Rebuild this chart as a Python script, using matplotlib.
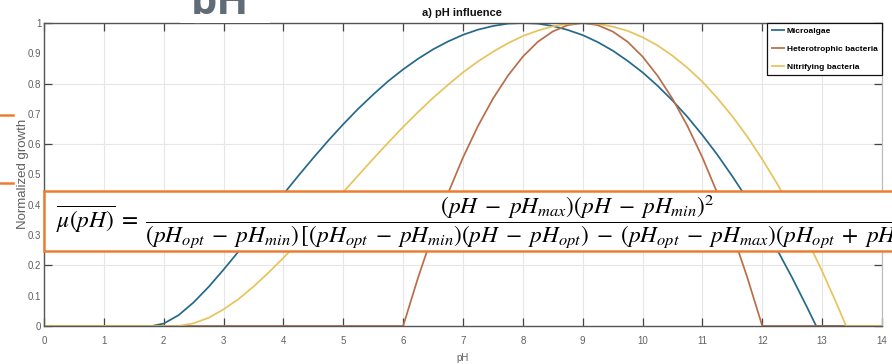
import matplotlib
matplotlib.use("Agg")
import matplotlib.pyplot as plt
from matplotlib import font_manager as fm
from matplotlib.patches import Rectangle
from matplotlib.lines import Line2D
from matplotlib.ticker import MultipleLocator, FormatStrFormatter

# Normalized growth versus pH for the three populations
ph_algae = [0, 1.8, 2, 2.25, 2.5, 2.75, 3, 3.25, 3.5, 3.75, 4, 4.25, 4.5, 4.75, 5, 5.25,
            5.5, 5.75, 6, 6.25, 6.5, 6.75, 7, 7.25, 7.5, 7.75, 8, 8.25, 8.5, 8.75, 9,
            9.25, 9.5, 9.75, 10, 10.25, 10.5, 10.75, 11, 11.25, 11.5, 11.75, 12, 12.25,
            12.5, 12.75, 12.9, 14]
mu_algae = [0, 0, 0.008, 0.036, 0.078, 0.129, 0.186, 0.246, 0.309, 0.372, 0.435, 0.496,
            0.555, 0.612, 0.666, 0.717, 0.764, 0.808, 0.847, 0.882, 0.913, 0.939, 0.961,
            0.978, 0.990, 0.998, 1.000, 0.998, 0.990, 0.977, 0.960, 0.937, 0.909, 0.875,
            0.837, 0.793, 0.744, 0.690, 0.630, 0.565, 0.494, 0.419, 0.337, 0.251, 0.159,
            0.061, 0, 0]

ph_hetero = [0, 6, 6.25, 6.5, 6.75, 7, 7.25, 7.5, 7.75, 8, 8.25, 8.5, 8.75, 9, 9.25, 9.5,
             9.75, 10, 10.25, 10.5, 10.75, 11, 11.25, 11.5, 11.75, 12, 14]
mu_hetero = [0, 0, 0.160, 0.306, 0.438, 0.556, 0.660, 0.750, 0.826, 0.889, 0.938, 0.972,
             0.993, 1.000, 0.993, 0.972, 0.938, 0.889, 0.826, 0.750, 0.660, 0.556, 0.438,
             0.306, 0.160, 0, 0]

ph_nitri = [0, 2.2, 2.25, 2.5, 2.75, 3, 3.25, 3.5, 3.75, 4, 4.25, 4.5, 4.75, 5, 5.25, 5.5,
            5.75, 6, 6.25, 6.5, 6.75, 7, 7.25, 7.5, 7.75, 8, 8.25, 8.5, 8.75, 9, 9.25,
            9.5, 9.75, 10, 10.25, 10.5, 10.75, 11, 11.25, 11.5, 11.75, 12, 12.25, 12.5,
            12.75, 13, 13.25, 13.4, 14]
mu_nitri = [0, 0, 0.000, 0.009, 0.027, 0.055, 0.089, 0.130, 0.176, 0.225, 0.277, 0.331,
            0.386, 0.442, 0.497, 0.552, 0.605, 0.657, 0.706, 0.753, 0.796, 0.837, 0.873,
            0.905, 0.933, 0.957, 0.975, 0.989, 0.997, 1.000, 0.997, 0.988, 0.974, 0.953,
            0.926, 0.892, 0.852, 0.806, 0.752, 0.692, 0.625, 0.550, 0.469, 0.380, 0.284,
            0.181, 0.070, 0, 0]

series_labels = ["Microalgae", "Heterotrophic bacteria", "Nitrifying bacteria"]
series_colors = ["#25698a", "#b96d48", "#e6c45c"]

x_ticks = list(range(0, 15))

available = {f.name for f in fm.fontManager.ttflist}
sans = "Liberation Sans" if "Liberation Sans" in available else "DejaVu Sans"
plt.rcParams["mathtext.fontset"] = "stix"

W, H = 892, 364
fig = plt.figure(figsize=(W / 100, H / 100), dpi=100)
fig.patch.set_facecolor("white")


def fx(px):
    return px / W


def fy(py):
    return 1 - py / H


ax_l, ax_r, ax_t, ax_b = 44, 882, 23, 326
ax = fig.add_axes([fx(ax_l), fy(ax_b), (ax_r - ax_l) / W, (ax_b - ax_t) / H])

for xs, ys, c, lab in zip([ph_algae, ph_hetero, ph_nitri],
                          [mu_algae, mu_hetero, mu_nitri],
                          series_colors, series_labels):
    ax.plot(xs, ys, color=c, lw=1.25, label=lab, solid_capstyle="butt")

ax.set_xlim(0, 14)
ax.set_ylim(0, 1)
ax.set_xticks(x_ticks)
ax.set_xticklabels([str(v) for v in x_ticks])
ax.yaxis.set_major_locator(MultipleLocator(0.2))
ax.yaxis.set_minor_locator(MultipleLocator(0.1))
ax.yaxis.set_major_formatter(FormatStrFormatter("%g"))
ax.yaxis.set_minor_formatter(FormatStrFormatter("%g"))

ax.grid(True, which="major", color="#e6e6e6", lw=0.8)
ax.set_axisbelow(True)
ax.tick_params(axis="both", which="major", direction="in", length=6, width=0.9,
               color="#444444", labelcolor="#606060", labelsize=7,
               top=True, right=True)
ax.tick_params(axis="x", pad=7)
ax.tick_params(axis="y", which="major", pad=2)
ax.tick_params(axis="y", which="minor", length=0, pad=2, labelcolor="#606060",
               labelsize=7)
for lab in ax.get_xticklabels() + ax.get_yticklabels() + ax.get_yticklabels(minor=True):
    lab.set_family(sans)

for side in ["left", "bottom", "top"]:
    ax.spines[side].set_color("#555555")
    ax.spines[side].set_linewidth(1.0)
ax.spines["right"].set_color("#bbbbbb")
ax.spines["right"].set_linewidth(0.9)

leg = ax.legend(loc="upper right", borderaxespad=0, fancybox=False, framealpha=1,
                edgecolor="#111111", handlelength=1.7, handletextpad=0.2,
                labelspacing=1.2, borderpad=0.5,
                prop={"family": sans, "weight": "bold", "size": 6})
leg.get_frame().set_linewidth(0.9)

fig.text(fx(462), fy(13.5), "a) pH influence", ha="center", va="center",
         fontsize=8, fontweight="bold", family=sans, color="#111111")
fig.text(fx(463), fy(358), "pH", ha="center", va="center", fontsize=7,
         family=sans, color="#606060")
fig.text(fx(23), fy(174), "Normalized growth", rotation=90, ha="center",
         va="center", fontsize=9.5, family=sans, color="#606060")

# Slide heading, cut off by the top edge
fig.text(fx(191), fy(14), "pH", ha="left", va="baseline", fontsize=30,
         fontweight="bold", family="Open Sans", color="#5f6b77", zorder=3)
fig.patches.append(Rectangle((fx(180), fy(22.5)), fx(90), (22.5 - 14) / H,
                             transform=fig.transFigure, facecolor="white",
                             edgecolor="none", zorder=4))

# Orange side markers
for yy in (115, 183):
    fig.lines.append(Line2D([0, fx(13)], [fy(yy), fy(yy)], transform=fig.transFigure,
                            color="#ED7D31", lw=1.8))

# Formula callout
fig.patches.append(Rectangle((fx(44), fy(251)), fx(900) - fx(44), (251 - 191) / H,
                             transform=fig.transFigure, facecolor="white",
                             edgecolor="#ED7D31", lw=1.8, zorder=5))
formula = (r"$\overline{\mu(pH)}\;=\;\dfrac{(pH\;-\;pH_{max})(pH\;-\;pH_{min})^2}"
           r"{(pH_{opt}\;-\;pH_{min})\,[(pH_{opt}\;-\;pH_{min})(pH\;-\;pH_{opt})"
           r"\;-\;(pH_{opt}\;-\;pH_{max})(pH_{opt}\;+\;pH_{min}\;-\;2pH)]}$")
fig.text(fx(56), fy(221), formula, ha="left", va="center", fontsize=16.8,
         color="black", zorder=6)

fig.savefig("out.png", dpi=100, facecolor="white")
